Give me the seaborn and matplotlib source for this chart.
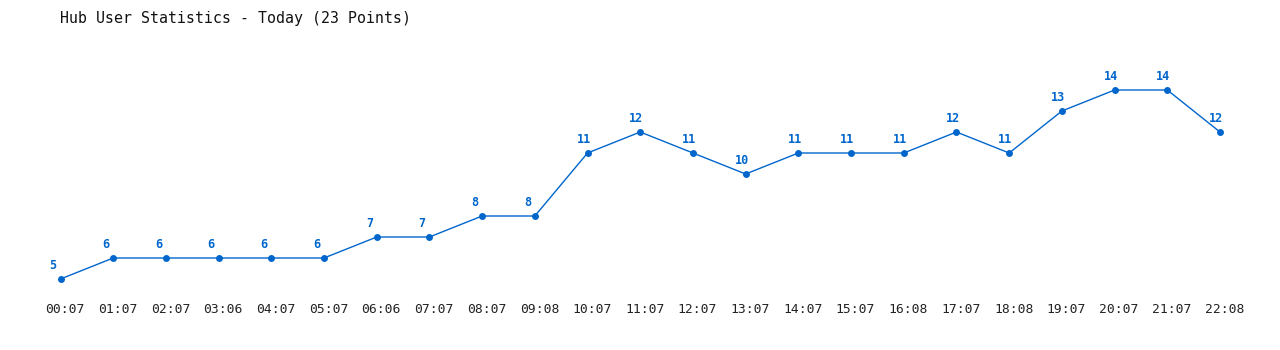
import matplotlib
matplotlib.use("Agg")
import matplotlib.pyplot as plt
import matplotlib.transforms as mtransforms
import seaborn as sns
import pandas as pd

times = ["00:07", "01:07", "02:07", "03:06", "04:07", "05:07", "06:06", "07:07",
         "08:07", "09:08", "10:07", "11:07", "12:07", "13:07", "14:07", "15:07",
         "16:08", "17:07", "18:08", "19:07", "20:07", "21:07", "22:08"]
users = [5, 6, 6, 6, 6, 6, 7, 7, 8, 8, 11, 12, 11, 10, 11, 11, 11, 12, 11, 13, 14, 14, 12]
title = "Hub User Statistics - Today (23 Points)"

sns.set_theme(style="white")
plt.rcParams["font.family"] = ["DejaVu Sans Mono", "DejaVu Sans"]

color = "#0066CC"
df = pd.DataFrame({"idx": range(len(times)), "users": users})

fig = plt.figure(figsize=(12.8, 3.5), dpi=100)
W, H = 1280, 350
x0, x1 = 60.5, 1220
y5, y14 = 279, 90
ax = fig.add_axes([x0 / W, 1 - y5 / H, (x1 - x0) / W, (y5 - y14) / H])

sns.lineplot(data=df, x="idx", y="users", ax=ax, color=color, linewidth=1,
             marker="o", markersize=5, markeredgewidth=0, clip_on=False)
ax.set_xlim(0, len(times) - 1)
ax.set_ylim(5, 14)

for i, v in enumerate(users):
    ax.annotate(str(v), (i, v), xytext=(-7.9, 9.6), textcoords="offset points",
                ha="left", va="center", fontsize=8.5, fontweight="bold",
                color=color, annotation_clip=False)

ax.set_xticks(range(len(times)))
ax.set_xticklabels(times)
ax.tick_params(axis="x", length=0, pad=17.5, labelsize=9.4, labelcolor="#222222")
shift = mtransforms.ScaledTranslation(4.5 / 100, 0, fig.dpi_scale_trans)
for lab in ax.get_xticklabels():
    lab.set_transform(lab.get_transform() + shift)
ax.set_yticks([])
ax.set_xlabel("")
ax.set_ylabel("")
for s in ax.spines.values():
    s.set_visible(False)
ax.patch.set_alpha(0)

fig.text(60 / W, 1 - 18 / H, title, ha="left", va="center", fontsize=10.7, color="#111111")

fig.savefig("out.png", dpi=100, facecolor="white")
